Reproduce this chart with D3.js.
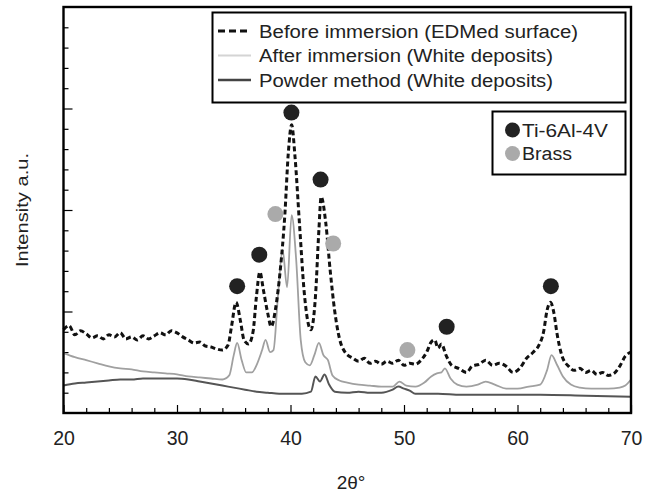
<!DOCTYPE html>
<html>
<head>
<meta charset="utf-8">
<script src="https://cdn.jsdelivr.net/npm/d3@7"></script>
<style>
  body { margin: 0; background: #fff; }
  svg { font-family: "Liberation Sans", Arial, sans-serif; }
  .axis path { display: none; }
  .axis line { stroke: #000; stroke-width: 1.2; }
  .axis text { font-size: 19.5px; fill: #222; }
</style>
</head>
<body>
<div id="chart"></div>
<script>
// data, 2theta in degrees, intensity in a.u. (0-400)
var beforeX = [20,20.5,21,21.5,22,22.5,23,23.5,24,24.5,25,25.5,26,26.5,27,27.5,28,28.5,29,29.5,30,30.5,31,31.5,32,32.5,33,33.5,34,34.5,34.8,35.2,35.6,35.9,36.3,36.7,37,37.3,37.6,38,38.3,38.7,39.1,39.5,39.8,40.1,40.4,40.8,41.2,41.8,42.2,42.5,42.7,43.1,43.5,43.9,44.3,44.8,45.5,46,46.5,47,47.5,48,48.5,49,49.5,50,50.5,51,51.5,52,52.4,52.7,53,53.3,53.7,54.2,54.8,55.5,56,56.6,57.2,57.8,58.4,59,59.6,60.2,60.8,61.4,61.9,62.3,62.6,62.9,63.2,63.5,63.9,64.5,65,65.5,66,66.5,67,67.5,68,68.5,69,69.5,70];
var beforeY = [82,86,77,81,78,74,76,73,77,75,79,73,75,72,76,73,76,79,77,81,79,75,72,69,70,66,65,63,62,67,85,109,90,72,68,80,115,139,122,98,85,104,141,195,255,284,252,185,120,82,115,180,213,188,140,100,74,60,54,51,54,49,51,48,51,49,52,47,49,48,52,60,70,72,64,68,57,47,44,40,46,48,52,47,49,46,40,44,54,60,67,80,101,109,99,77,57,46,42,44,40,42,38,40,37,39,46,56,60];

var afterX = [20,21,22,23,24,25,26,27,28,29,30,31,32,33,34,34.6,35,35.3,35.7,36.1,36.6,37,37.5,37.8,38.2,38.5,38.9,39.3,39.7,40.1,40.5,40.9,41.3,41.7,42.1,42.5,42.9,43.3,43.7,44.3,45,46,47,48,49,49.6,50.2,51,51.8,52.4,52.9,53.3,53.6,54.1,54.7,55.5,56.5,57.2,58,59,60,61,62,62.6,63,63.5,64,64.7,65.5,66.5,68,69,69.5,70];
var afterY = [59,55,52,49,46,44,43,41,40,39,38,36,35,34,33,37,57,69,52,40,40,47,62,72,60,62,116,161,124,195,151,72,50,47,57,69,57,52,37,32,30,28,27,26,26,31,27,26,30,36,39,40,44,34,28,26,28,31,28,24,24,26,28,42,57,47,36,28,25,24,24,25,27,33];

var powderX = [20,21,22,23,24,25,26,27,28,29,30,31,32,33,34,35,36,37,38,39,40,41,41.8,42.2,42.6,43,43.4,43.9,45,46,47,48,49,49.5,50,50.5,51,53,55,58,62,66,70];
var powderY = [27,29,30,31,32,33,33,34,34,34,34,33,31,29,27,25,23,21,20,19,19,19,21,36,31,38,28,21,20,21,20,20,23,26,24,22,19,19,18,18,18,17,16];

// peak markers
var tiX = [35.3,37.25,40.08,42.65,53.76,62.94];
var tiY = [125,156,296,230,85,125];
var brassX = [38.67,43.76,50.3];
var brassY = [196,167,62];

var seriesNames = ["Before immersion (EDMed surface)", "After immersion (White deposits)", "Powder method (White deposits)"];
var phaseNames = ["Ti-6Al-4V", "Brass"];

var width = 654, height = 497;
var margin = {top: 7, right: 23, bottom: 84, left: 63.5};

var svg = d3.select("#chart").append("svg").attr("width", width).attr("height", height);

var x = d3.scaleLinear().domain([20, 70]).range([margin.left, width - margin.right]);
var y = d3.scaleLinear().domain([0, 400]).range([height - margin.bottom, margin.top]);

var zip = function(xs, ys) { return xs.map(function(v, i) { return [v, ys[i]]; }); };
var line = d3.line().curve(d3.curveMonotoneX)
  .x(function(d) { return x(d[0]); }).y(function(d) { return y(d[1]); });

// axes, ticks pointing inward
var xMajor = d3.axisBottom(x).tickValues([20,30,40,50,60,70]).tickSizeInner(-8).tickSizeOuter(0).tickPadding(18).tickFormat(d3.format("d"));
var xMinor = d3.axisBottom(x).tickValues(d3.range(22, 70, 2).filter(function(v) { return v % 10 != 0; })).tickSizeInner(-5).tickSizeOuter(0).tickFormat("");
var yMajor = d3.axisLeft(y).tickValues([100,200,300]).tickSizeInner(-9).tickSizeOuter(0).tickFormat("");
var yMinor = d3.axisLeft(y).tickValues(d3.range(20, 400, 20).filter(function(v) { return v % 100 != 0; })).tickSizeInner(-5).tickSizeOuter(0).tickFormat("");

svg.append("g").attr("class", "axis").attr("transform", "translate(0," + y(0) + ")").call(xMajor);
svg.append("g").attr("class", "axis").attr("transform", "translate(0," + y(0) + ")").call(xMinor);
svg.append("g").attr("class", "axis").attr("transform", "translate(" + x(20) + ",0)").call(yMajor);
svg.append("g").attr("class", "axis").attr("transform", "translate(" + x(20) + ",0)").call(yMinor);

// curves
svg.append("path").datum(zip(powderX, powderY)).attr("d", line)
  .attr("fill", "none").attr("stroke", "#555").attr("stroke-width", 2);
svg.append("path").datum(zip(afterX, afterY)).attr("d", line)
  .attr("fill", "none").attr("stroke", "#a0a0a0").attr("stroke-width", 1.8);
svg.append("path").datum(zip(beforeX, beforeY)).attr("d", line)
  .attr("fill", "none").attr("stroke", "#111").attr("stroke-width", 3).attr("stroke-dasharray", "5,3");

// markers
svg.selectAll("circle.ti").data(zip(tiX, tiY)).enter().append("circle").attr("class", "ti")
  .attr("cx", function(d) { return x(d[0]); }).attr("cy", function(d) { return y(d[1]); })
  .attr("r", 8).attr("fill", "#222");
svg.selectAll("circle.brass").data(zip(brassX, brassY)).enter().append("circle").attr("class", "brass")
  .attr("cx", function(d) { return x(d[0]); }).attr("cy", function(d) { return y(d[1]); })
  .attr("r", 8).attr("fill", "#aaa");

// frame
svg.append("rect").attr("x", x(20)).attr("y", y(400)).attr("width", x(70) - x(20)).attr("height", y(0) - y(400))
  .attr("fill", "none").attr("stroke", "#000").attr("stroke-width", 2.4);

// legend 1
var lg = svg.append("g");
lg.append("rect").attr("x", 212.5).attr("y", 12.5).attr("width", 413).attr("height", 90)
  .attr("fill", "#fff").attr("stroke", "#000").attr("stroke-width", 2);
var lgStyles = [
  {stroke: "#111", w: 3, dash: "7,4", len: 319},
  {stroke: "#d4d4d4", w: 2, dash: null, len: 294},
  {stroke: "#444", w: 2.5, dash: null, len: 294}
];
seriesNames.forEach(function(name, i) {
  var yy = 31 + i * 24.5;
  lg.append("line").attr("x1", 218).attr("x2", 251).attr("y1", yy).attr("y2", yy)
    .attr("stroke", lgStyles[i].stroke).attr("stroke-width", lgStyles[i].w)
    .attr("stroke-dasharray", lgStyles[i].dash);
  lg.append("text").attr("x", 259).attr("y", yy + 6.5).attr("font-size", 18).attr("fill", "#222")
    .attr("textLength", lgStyles[i].len).attr("lengthAdjust", "spacingAndGlyphs").text(name);
});

// legend 2
var lg2 = svg.append("g");
lg2.append("rect").attr("x", 492.5).attr("y", 111.5).attr("width", 133).attr("height", 63)
  .attr("fill", "#fff").attr("stroke", "#000").attr("stroke-width", 2);
var phaseColors = ["#222", "#aaa"];
var phaseLen = [86, 50];
phaseNames.forEach(function(name, i) {
  var yy = 130 + i * 23.5;
  lg2.append("circle").attr("cx", 512.5).attr("cy", yy).attr("r", 7.5).attr("fill", phaseColors[i]);
  lg2.append("text").attr("x", 522).attr("y", yy + 6.5).attr("font-size", 18).attr("fill", "#222")
    .attr("textLength", phaseLen[i]).attr("lengthAdjust", "spacingAndGlyphs").text(name);
});

// axis titles
svg.append("text").attr("transform", "translate(28,210) rotate(-90)").attr("text-anchor", "middle")
  .attr("font-size", 17).attr("fill", "#222")
  .attr("textLength", 114).attr("lengthAdjust", "spacingAndGlyphs").text("Intensity a.u.");
svg.append("text").attr("x", 351).attr("y", 489).attr("text-anchor", "middle")
  .attr("font-size", 19).attr("fill", "#222").text("2θ°");
</script>
</body>
</html>
